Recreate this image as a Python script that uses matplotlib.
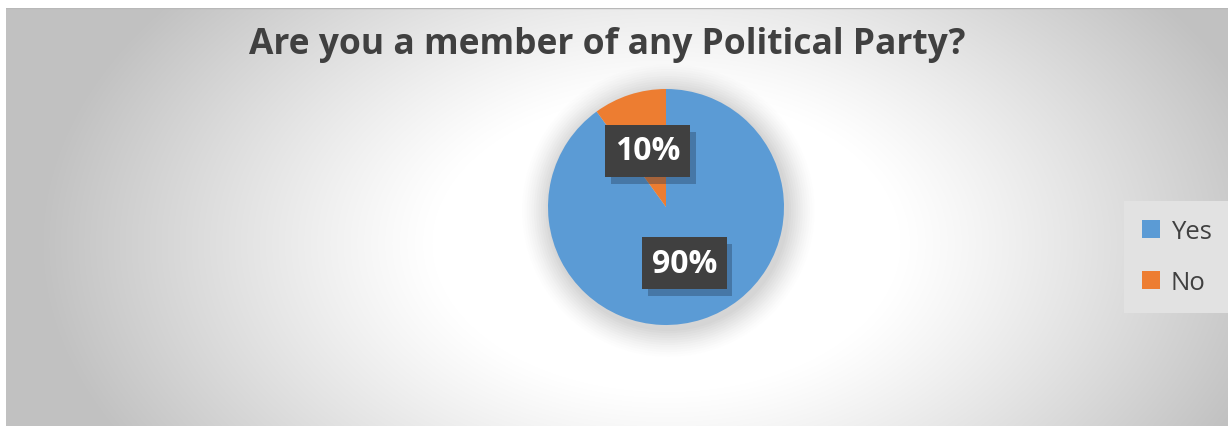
import numpy as np
import matplotlib
matplotlib.use("Agg")
import matplotlib.pyplot as plt
import matplotlib.patheffects as pe
from matplotlib.patches import Circle

plt.rcParams['font.family'] = ['Open Sans', 'DejaVu Sans']

# Survey answers
labels = ['Yes', 'No']
shares = [90, 10]
colors = ['#5b9bd5', '#ed7d31']
title = 'Are you a member of any Political Party?'

W, H = 1228, 427
fig = plt.figure(figsize=(W / 100, H / 100), dpi=100)
fig.patch.set_facecolor('white')

# Radial grey background inside the chart area
bg = fig.add_axes([6 / W, 0, (W - 6) / W, (H - 9) / H])
bg.set_axis_off()
yy, xx = np.mgrid[0:418, 0:1222]
cx, cy = 660, 235
d = np.sqrt(((xx - cx) / 520.0) ** 2 + ((yy - cy) / 330.0) ** 2)
t = np.clip((d - 0.45) / 0.75, 0, 1) ** 1.1
shade = 1.0 - 0.24 * t
img = np.dstack([shade, shade, shade])
bg.imshow(img, aspect='auto', interpolation='bilinear', extent=[0, 1, 0, 1])
bg.set_xlim(0, 1)
bg.set_ylim(0, 1)
bg.plot([0, 1], [0.999, 0.999], color='#b8b8b8', lw=1)

fig.text(607 / W, 1 - 45 / H, title, ha='center', va='center',
         fontsize=25.5, fontweight='bold', color='#404040')

# Pie
R = 118
pcx, pcy = 666, 208
ax = fig.add_axes([(pcx - R) / W, 1 - (pcy + R) / H, 2 * R / W, 2 * R / H])
ax.set_facecolor('none')
ax.patch.set_visible(False)

# soft shadow around the pie
for k, a in zip(range(12, 0, -1), np.linspace(0.012, 0.045, 12)):
    ax.add_patch(Circle((0.02, -0.03), 1 + k * 0.02, color='#808080',
                        alpha=a, lw=0, zorder=0, clip_on=False))

wedges, _, autotexts = ax.pie(shares, colors=colors, startangle=90,
                              counterclock=False, autopct='%d%%',
                              pctdistance=0.5,
                              wedgeprops=dict(linewidth=0, zorder=1))
ax.set_xlim(-1, 1)
ax.set_ylim(-1, 1)
ax.set_aspect('auto')

for txt in autotexts:
    txt.set_fontsize(23)
    txt.set_fontweight('bold')
    txt.set_color('white')
    txt.set_zorder(3)
    txt.set_bbox(dict(boxstyle='square,pad=0.3', fc='#404040', ec='none'))
    txt.get_bbox_patch().set_path_effects([
        pe.SimplePatchShadow(offset=(4, -5), shadow_rgbFace='#1f3550', alpha=0.35),
        pe.Normal()])

leg = fig.legend(wedges, labels, loc='center', bbox_to_anchor=(1177 / W, 1 - 258 / H),
                 fontsize=18.5, frameon=True, facecolor='#e2e2e2', edgecolor='none',
                 fancybox=False, framealpha=1, handlelength=0.7, handleheight=0.7,
                 handletextpad=0.4, labelspacing=1.0, borderpad=0.7)
for t_ in leg.get_texts():
    t_.set_color('#404040')

fig.savefig('out.png', dpi=100, facecolor='white')
